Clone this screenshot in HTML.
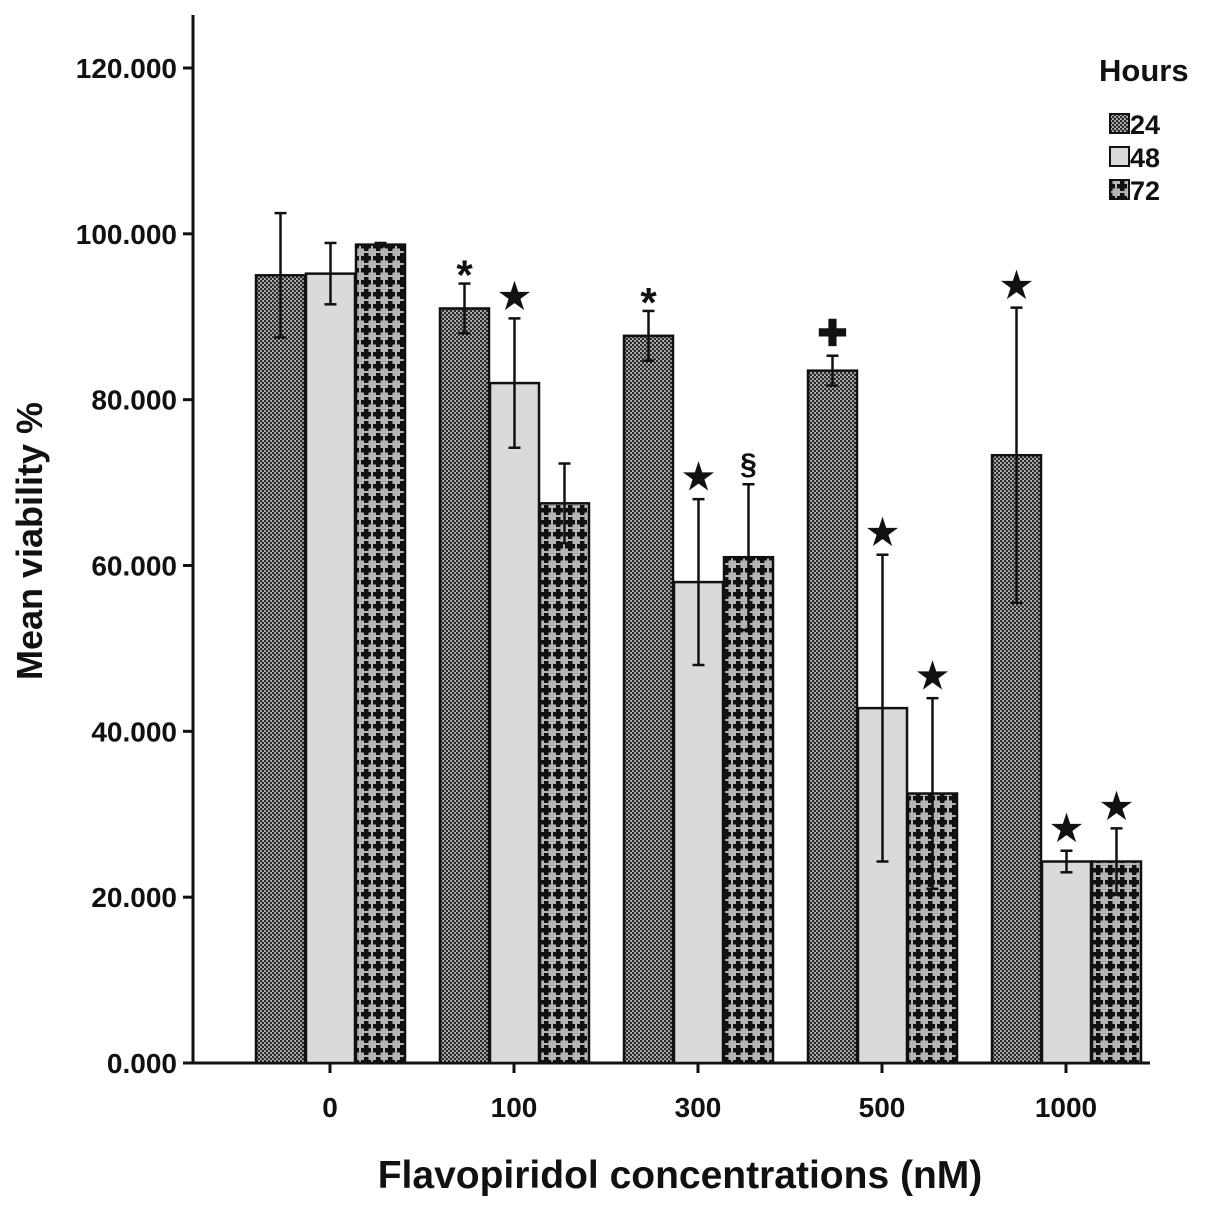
<!DOCTYPE html>
<html><head><meta charset="utf-8"><style>
body{margin:0;background:#fff}
svg text{font-family:"Liberation Sans",sans-serif;font-weight:bold;fill:#111}
</style></head><body>
<svg width="1205" height="1207" viewBox="0 0 1205 1207">
<defs>
<pattern id="p24" width="4" height="4" patternUnits="userSpaceOnUse"><rect width="4" height="4" fill="#bbb"/><circle cx="1" cy="1" r="1.3" fill="#2a2a2a"/><circle cx="3" cy="3" r="1.3" fill="#2a2a2a"/></pattern>
<pattern id="p72" width="12" height="12" patternUnits="userSpaceOnUse"><rect width="12" height="12" fill="#b5b5b5"/><rect x="4" y="1" width="4.5" height="10" fill="#111"/><rect x="1" y="4" width="10" height="4.5" fill="#111"/></pattern>
</defs>
<g id="axes"></g>
<g id="bars"></g>
<text x="42" y="541" font-size="36" text-anchor="middle" transform="rotate(-90 42 541)">Mean viability %</text>
<text x="680" y="1188" font-size="39" text-anchor="middle">Flavopiridol concentrations (nM)</text>
<g>
<text x="1099" y="81" font-size="31">Hours</text>
<g><rect x="1110" y="114" width="19" height="19" fill="url(#p24)" stroke="#111" stroke-width="2"/><text x="1130" y="134" font-size="27">24</text></g>
<g><rect x="1110" y="147" width="19" height="19" fill="#dadada" stroke="#111" stroke-width="2"/><text x="1130" y="167" font-size="27">48</text></g>
<g><rect x="1110" y="180" width="19" height="19" fill="url(#p72)" stroke="#111" stroke-width="2"/><text x="1130" y="200" font-size="27">72</text></g>
</g>
</svg>
<script>
const categories=["0","100","300","500","1000"];
const v24=[95,91,87.7,83.5,73.3];
const v48=[95.2,82,58,42.8,24.3];
const v72=[98.7,67.5,61,32.5,24.3];
const e24=[7.5,3,3,1.8,17.8];
const e48=[3.7,7.8,10,18.5,1.3];
const e72=[0.2,4.8,8.8,11.5,4];
const m24=["","*","*","✚","★"];
const m48=["","★","★","★","★"];
const m72=["","","§","★","★"];
const yTicks=[0,20,40,60,80,100,120];
const NS="http://www.w3.org/2000/svg";
const y=v=>1063-v*(995/120);
const xc=i=>330+i*184;
function mk(t,a,p){const e=document.createElementNS(NS,t);for(const k in a)e.setAttribute(k,a[k]);p.appendChild(e);return e;}
const ax=document.getElementById('axes'),bg=document.getElementById('bars');
const yl=mk('line',{x1:193,y1:15,x2:193,y2:1063,stroke:'#111','stroke-width':3},ax);


const xl=mk('line',{x1:193,y1:1063,x2:1150,y2:1063,stroke:'#111','stroke-width':3},ax);


yTicks.forEach(t=>{
 mk('line',{x1:183,x2:193,y1:y(t),y2:y(t),stroke:'#111','stroke-width':3},ax);
 const tx=mk('text',{x:177,y:y(t)+10,'font-size':28,'text-anchor':'end'},ax);tx.textContent=t.toFixed(3);
 
 
});
categories.forEach((c,i)=>{
 mk('line',{x1:xc(i),x2:xc(i),y1:1063,y2:1073,stroke:'#111','stroke-width':3},ax);
 const tx=mk('text',{x:xc(i),y:1117,'font-size':28,'text-anchor':'middle'},ax);tx.textContent=c;
 
 
 [[v24,e24,m24,'url(#p24)',-74,'24h'],[v48,e48,m48,'#dadada',-24,'48h'],[v72,e72,m72,'url(#p72)',26,'72h']].forEach(([v,e,m,f,off,n])=>{
  const x0=xc(i)+off;
  const r=mk('rect',{x:x0,y:y(v[i]),width:49,height:1063-y(v[i]),fill:f,stroke:'#111','stroke-width':2.5},bg);
  
  
  const cx=x0+24.5;
  mk('line',{x1:cx,x2:cx,y1:y(v[i]+e[i]),y2:y(v[i]-e[i]),stroke:'#111','stroke-width':2.5},bg);
  mk('line',{x1:cx-6,x2:cx+6,y1:y(v[i]+e[i]),y2:y(v[i]+e[i]),stroke:'#111','stroke-width':2.5},bg);
  mk('line',{x1:cx-6,x2:cx+6,y1:y(v[i]-e[i]),y2:y(v[i]-e[i]),stroke:'#111','stroke-width':2.5},bg);
  if(m[i]){const s=mk('text',{x:cx,y:y(v[i]+e[i])-10,'font-size':m[i]=='*'?42:(m[i]=='§'?30:36),'text-anchor':'middle'},bg);
   if(m[i]=='*')s.setAttribute('y',y(v[i]+e[i])+6);
   if(m[i]=='§')s.setAttribute('font-weight','normal');
   s.textContent=m[i];
   
   }
 });
});
</script>
</body></html>
